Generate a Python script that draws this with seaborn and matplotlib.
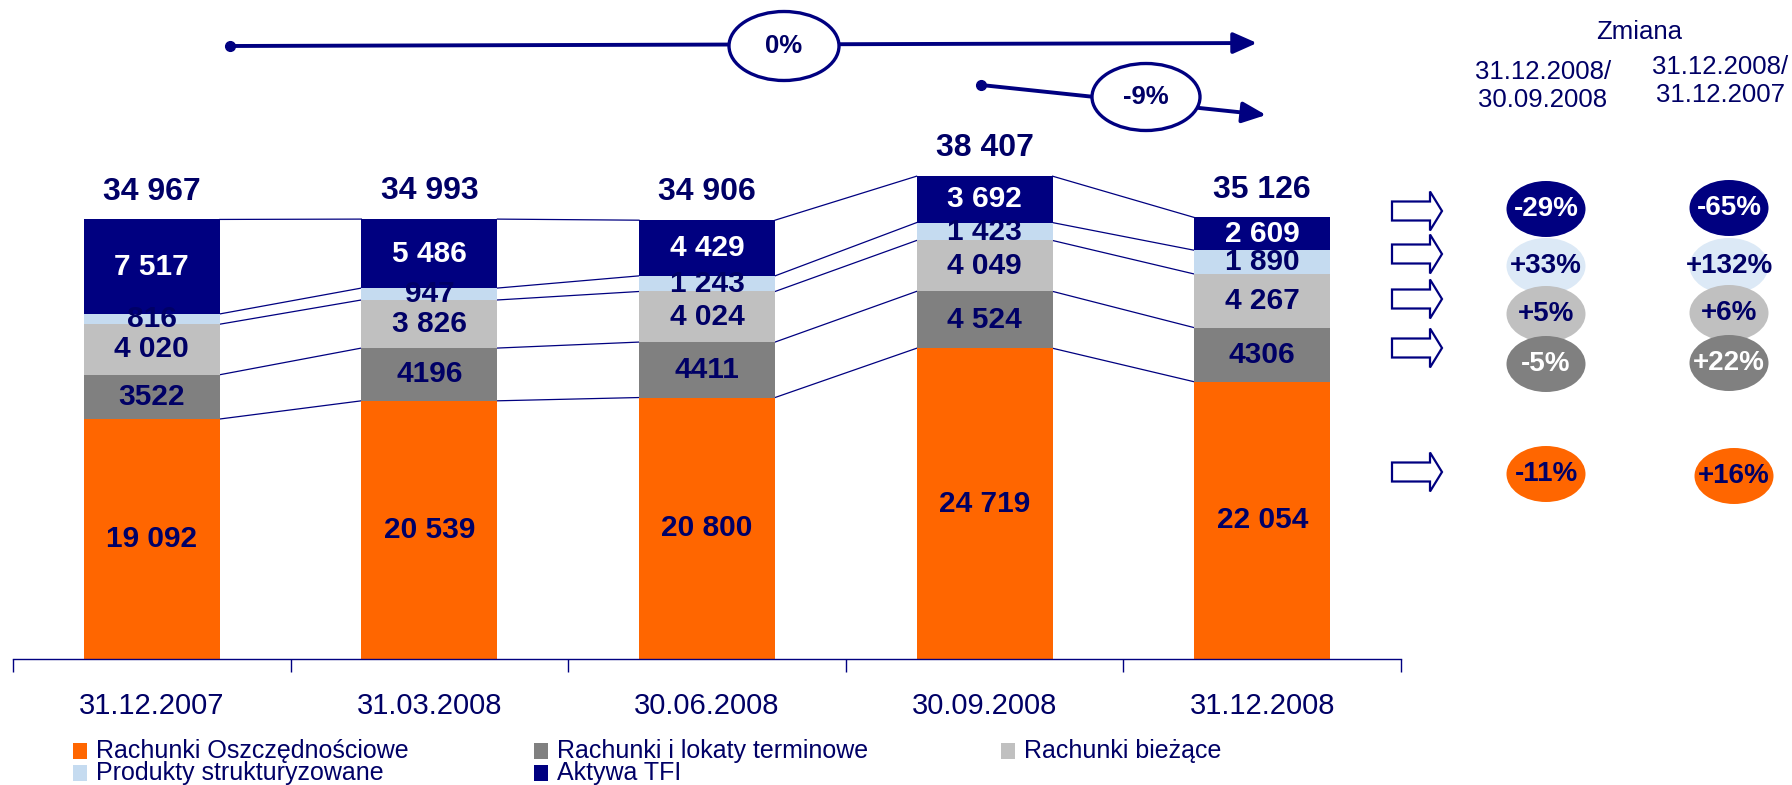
import matplotlib
matplotlib.use("Agg")
import matplotlib.pyplot as plt
import seaborn as sns
import pandas as pd
import numpy as np
from matplotlib.patches import Ellipse, Polygon, Rectangle
from matplotlib.lines import Line2D

# ---------------- data ----------------
dates = ["31.12.2007", "31.03.2008", "30.06.2008", "30.09.2008", "31.12.2008"]
oszczednosciowe = [19092, 20539, 20800, 24719, 22054]
terminowe = [3522, 4196, 4411, 4524, 4306]
biezace = [4020, 3826, 4024, 4049, 4267]
strukturyzowane = [816, 947, 1243, 1423, 1890]
aktywa_tfi = [7517, 5486, 4429, 3692, 2609]
totals = [34967, 34993, 34906, 38407, 35126]
terminowe_sep = [False, False, False, True, False]

series_names = ["Rachunki Oszczędnościowe", "Rachunki i lokaty terminowe",
                "Rachunki bieżące", "Produkty strukturyzowane", "Aktywa TFI"]

# changes listed top (Aktywa TFI) to bottom (Rachunki Oszczędnościowe)
change_header = "Zmiana"
change_q_label = "31.12.2008/\n30.09.2008"
change_y_label = "31.12.2008/\n31.12.2007"
change_q = [-29, 33, 5, -5, -11]
change_y = [-65, 132, 6, 22, 16]
total_changes = [0, -9]

# ---------------- style ----------------
ORANGE = "#FF6600"
DGRAY = "#808080"
LGRAY = "#C0C0C0"
LBLUE = "#C5DBF0"
NAVY = "#000080"
TXT = "#000066"
colors = [ORANGE, DGRAY, LGRAY, LBLUE, NAVY]

W, H = 1792, 785
fig = plt.figure(figsize=(W / 100, H / 100), dpi=100)
plt.rcParams["font.family"] = ["Liberation Sans", "DejaVu Sans"]

def fx(x):
    return x / W

def fy(y):
    return 1 - y / H

base_px = 659
px_per_unit = 240.0 / 19092
ymax = base_px / px_per_unit

ax = fig.add_axes([fx(13), 1 - base_px / H, 1388 / W, base_px / H])

series = [oszczednosciowe, terminowe, biezace, strukturyzowane, aktywa_tfi]
cum = np.cumsum(np.array(series, dtype=float), axis=0)

df = pd.DataFrame({"date": dates})
for k in range(5):
    df[f"cum{k}"] = cum[k]

bar_w = 0.49
for k in range(4, -1, -1):
    sns.barplot(data=df, x="date", y=f"cum{k}", order=dates, color=colors[k],
                saturation=1, width=bar_w, errorbar=None, linewidth=0,
                edgecolor="none", ax=ax, zorder=2)

# connector lines
hw = bar_w / 2
for k in range(5):
    for i in range(4):
        ax.plot([i + hw, i + 1 - hw], [cum[k][i], cum[k][i + 1]],
                color=NAVY, lw=0.9, zorder=1)

def fmt(v, sep=True):
    s = f"{int(v):,}"
    return s.replace(",", " ") if sep else s.replace(",", "")

# segment labels
for k in range(5):
    for i in range(5):
        bottom = cum[k - 1][i] if k > 0 else 0
        v = series[k][i]
        sep = terminowe_sep[i] if k == 1 else True
        col = "white" if k == 4 else TXT
        ax.text(i, bottom + v / 2, fmt(v, sep), ha="center", va="center",
                fontsize=21.5, fontweight="bold", color=col, zorder=4)

# totals
for i in range(5):
    ax.annotate(fmt(totals[i]), (i, cum[4][i]), xytext=(0, 20),
                textcoords="offset points", ha="center", va="center",
                fontsize=23, fontweight="bold", color=TXT, annotation_clip=False)

ax.set_xlim(-0.5, 4.5)
ax.set_ylim(0, ymax)
ax.set_xlabel("")
ax.set_ylabel("")
ax.set_yticks([])
for s in ["top", "right", "left"]:
    ax.spines[s].set_visible(False)
ax.spines["bottom"].set_color(NAVY)
ax.spines["bottom"].set_linewidth(1)
ax.set_xticks(range(5))
ax.set_xticklabels(dates, fontsize=21, color=TXT)
ax.set_xticks(np.arange(-0.5, 5.0, 1.0), minor=True)
ax.tick_params(axis="x", which="major", length=0, pad=24)
ax.tick_params(axis="x", which="minor", length=9.5, width=1, color=NAVY)
ax.set_facecolor("none")

# ---------------- top growth arrows ----------------
arrows = [((230, 46), (1257, 43), (784, 46), 110, 69),
          ((981, 85), (1266, 115), (1146, 97), 108, 67)]
for (start, end, c, ew, eh), val in zip(arrows, total_changes):
    ax.annotate("", xy=(fx(end[0]), fy(end[1])), xycoords="figure fraction",
                xytext=(fx(start[0]), fy(start[1])), textcoords="figure fraction",
                arrowprops=dict(arrowstyle="-|>,head_length=0.9,head_width=0.4",
                                lw=2.8, color=NAVY, shrinkA=0, shrinkB=0,
                                mutation_scale=16),
                annotation_clip=False)
    fig.add_artist(Line2D([fx(start[0])], [fy(start[1])], marker="o",
                          markersize=7, color=NAVY, transform=fig.transFigure))
    fig.add_artist(Ellipse((fx(c[0]), fy(c[1])), ew / W, eh / H,
                           transform=fig.transFigure, facecolor="white",
                           edgecolor=NAVY, lw=2.4, zorder=5))
    fig.text(fx(c[0]), fy(c[1]), f"{val}%", ha="center", va="center",
             fontsize=18.5, fontweight="bold", color=TXT, zorder=6)

# ---------------- right panel ----------------
fig.text(fx(1639), fy(32), change_header, ha="center", va="center",
         fontsize=18.5, color=TXT)
fig.text(fx(1543), fy(86), change_q_label, ha="center", va="center",
         fontsize=18.5, color=TXT, linespacing=1.2, multialignment="center")
fig.text(fx(1720), fy(81), change_y_label, ha="center", va="center",
         fontsize=18.5, color=TXT, linespacing=1.2, multialignment="center")

ell_fill = [NAVY, "#DCE9F6", LGRAY, DGRAY, ORANGE]
ell_txt = ["white", TXT, TXT, "white", TXT]
q_y = [209, 266, 314, 364, 474]
y_y = [208, 266, 313, 363, 476]
y_x = [1729, 1729, 1729, 1729, 1734]
arrow_y = [211, 254, 299, 348, 472]

for j in range(5):
    cy = arrow_y[j]
    pts = [(1392, cy - 9.5), (1430, cy - 9.5), (1430, cy - 19.5), (1442, cy),
           (1430, cy + 19.5), (1430, cy + 9.5), (1392, cy + 9.5)]
    fig.add_artist(Polygon([(fx(a), fy(b)) for a, b in pts], closed=True,
                           transform=fig.transFigure, facecolor="white",
                           edgecolor=NAVY, lw=1.6, zorder=5))
    for cx, ccy, val in [(1546, q_y[j], change_q[j]), (y_x[j], y_y[j], change_y[j])]:
        fig.add_artist(Ellipse((fx(cx), fy(ccy)), 79 / W, 56 / H,
                               transform=fig.transFigure, facecolor=ell_fill[j],
                               edgecolor="none", zorder=5 + j * 0.1))
        fig.text(fx(cx), fy(ccy), f"{val:+d}%", ha="center", va="center",
                 fontsize=20, fontweight="bold", color=ell_txt[j], zorder=6)

# ---------------- legend ----------------
legend_pos = [(73, 751), (73, 773), (534, 751), (534, 773), (1001, 751)]
legend_order = [0, 3, 1, 4, 2]
for (lx, ly), k in zip(legend_pos, legend_order):
    fig.add_artist(Rectangle((fx(lx), fy(ly + 8)), 14 / W, 16 / H,
                             transform=fig.transFigure, facecolor=colors[k],
                             edgecolor="none"))
    fig.text(fx(lx + 23), fy(ly), series_names[k], ha="left", va="center",
             fontsize=18, color=TXT)

fig.savefig("out.png", dpi=100)
